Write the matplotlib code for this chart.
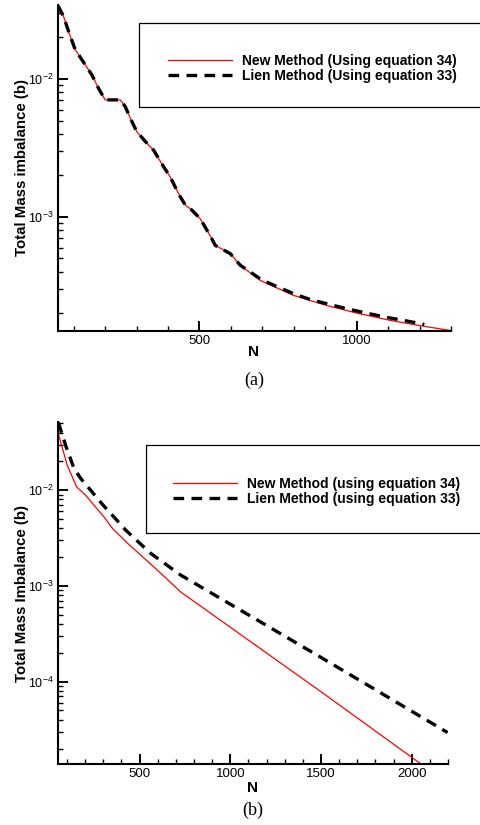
import matplotlib
matplotlib.use("Agg")
import matplotlib.pyplot as plt
from matplotlib.ticker import MultipleLocator, LogLocator, NullFormatter, FixedLocator
from matplotlib.patches import Rectangle

plt.rcParams['font.family'] = ['Liberation Sans', 'DejaVu Sans']
plt.rcParams['mathtext.fontset'] = 'custom'
plt.rcParams['mathtext.rm'] = 'Liberation Sans'
plt.rcParams['mathtext.default'] = 'regular'

# ---------------- data: panel (a) ----------------
N_a_new = [50, 68, 84, 105, 116, 137, 158, 179, 200, 248, 264, 280, 301, 338, 354,
           386, 407, 428, 439, 455, 476, 502, 524, 539, 550, 598, 630, 693, 799,
           905, 1000, 1106, 1201, 1300]
new_a = [0.0340, 0.0283, 0.0220, 0.01625, 0.01494, 0.01264, 0.01069, 0.00855, 0.00706,
         0.00706, 0.00630, 0.00519, 0.00414, 0.00332, 0.00305, 0.00231, 0.00195,
         0.00156, 0.00140, 0.00122, 0.00112, 0.000973, 0.000800, 0.000697, 0.000622,
         0.000542, 0.000446, 0.000347, 0.000270, 0.000228, 0.000201, 0.000178,
         0.000163, 0.000150]

N_a_lien = [50, 68, 84, 105, 116, 137, 158, 179, 200, 248, 264, 280, 301, 338, 354,
            386, 407, 428, 439, 455, 476, 502, 524, 539, 550, 598, 630, 698, 750,
            804, 857, 915, 968, 1027, 1085, 1148, 1207, 1215]
lien_a = [0.0340, 0.0283, 0.0220, 0.01625, 0.01494, 0.01264, 0.01069, 0.00855, 0.00706,
          0.00706, 0.00630, 0.00519, 0.00414, 0.00332, 0.00305, 0.00231, 0.00195,
          0.00156, 0.00140, 0.00122, 0.00112, 0.000973, 0.000800, 0.000697, 0.000622,
          0.000542, 0.000446, 0.000350, 0.000310, 0.000275, 0.000250, 0.000232,
          0.000216, 0.000202, 0.000189, 0.000178, 0.000168, 0.000166]

# ---------------- data: panel (b) ----------------
N_b_new = [50, 101, 153, 202, 248, 303, 349, 432, 600, 726, 1498, 2070]
new_b = [0.0400, 0.0182, 0.0108, 0.00887, 0.00698, 0.00527, 0.00402, 0.00281,
         0.00145, 0.000866, 7.9e-5, 1.30e-5]

N_b_lien = [52, 92, 138, 175, 230, 294, 349, 423, 494, 561, 726, 1498, 2198]
lien_b = [0.0510, 0.0294, 0.0169, 0.0133, 0.0100, 0.00715, 0.0055, 0.00383,
          0.00287, 0.00219, 0.00130, 0.000180, 2.94e-5]

labels_a = ["New Method (Using equation 34)", "Lien Method (Using equation 33)"]
labels_b = ["New Method (using equation 34)", "Lien Method (using equation 33)"]

W, H = 481, 825
fig = plt.figure(figsize=(W / 100, H / 100), dpi=100)


def px_rect(l, t, r, b):
    return [l / W, 1 - b / H, (r - l) / W, (b - t) / H]


def style_axes(ax, xlim, ylim, xmajor):
    ax.set_yscale('log')
    ax.set_xlim(*xlim)
    ax.set_ylim(*ylim)
    for s in ('top', 'right'):
        ax.spines[s].set_visible(False)
    for s in ('left', 'bottom'):
        ax.spines[s].set_linewidth(1.5)
    ax.xaxis.set_major_locator(FixedLocator(xmajor))
    ax.xaxis.set_minor_locator(MultipleLocator(100))
    ax.yaxis.set_major_locator(LogLocator(base=10, numticks=20))
    ax.yaxis.set_minor_locator(LogLocator(base=10, subs=range(2, 10), numticks=20))
    ax.yaxis.set_minor_formatter(NullFormatter())
    ax.tick_params(which='major', direction='in', length=7.2, width=1.4)
    ax.tick_params(which='minor', direction='in', length=3.8, width=1.0)
    ax.tick_params(axis='x', which='major', labelsize=9.5, pad=3)
    ax.tick_params(axis='y', which='major', labelsize=9, pad=3)
    for lab in ax.get_yticklabels():
        lab.set_verticalalignment('center_baseline')


# ---------------- panel (a) ----------------
axa = fig.add_axes(px_rect(58, 5, 451, 331))
axa.plot(N_a_new, new_a, color='red', lw=0.9, zorder=2)
axa.plot(N_a_lien, lien_a, color='black', lw=2.4, dashes=(3.2, 2.2), zorder=3)
style_axes(axa, (50, 1300), (1.49e-4, 0.0344), [500, 1000])

fig.add_artist(Rectangle((139 / W, 1 - 107 / H), 360 / W, 84 / H,
                         transform=fig.transFigure, fill=False, lw=0.9,
                         edgecolor='black', clip_on=False))
axa.legend(axa.get_lines(), labels_a, loc='center left',
           bbox_to_anchor=(168 / W, 1 - 68.5 / H), bbox_transform=fig.transFigure,
           frameon=False, borderpad=0, borderaxespad=0, handlelength=4.6,
           handletextpad=0.7, labelspacing=0.1,
           prop={'weight': 'bold', 'size': 10})

fig.text(22.5 / W, 1 - 167 / H, "Total Mass imbalance (b)", rotation=90,
         ha='center', va='center', fontsize=10.8, fontweight='bold')
fig.text(254 / W, 1 - 352.5 / H, "N", ha='center', va='center',
         fontsize=11, fontweight='bold')
fig.text(254 / W, 1 - 380 / H, "(a)", ha='center', va='center',
         fontsize=13, family=['Liberation Serif', 'DejaVu Serif'])

# ---------------- panel (b) ----------------
axb = fig.add_axes(px_rect(58, 422, 448, 764))
axb.plot(N_b_new, new_b, color='red', lw=0.9, zorder=2)
axb.plot(N_b_lien, lien_b, color='black', lw=2.4, dashes=(3.2, 2.2), zorder=3)
style_axes(axb, (50, 2200), (1.38e-5, 0.0516), [500, 1000, 1500, 2000])

fig.add_artist(Rectangle((146 / W, 1 - 533 / H), 360 / W, 88 / H,
                         transform=fig.transFigure, fill=False, lw=0.9,
                         edgecolor='black', clip_on=False))
axb.legend(axb.get_lines(), labels_b, loc='center left',
           bbox_to_anchor=(173 / W, 1 - 491.5 / H), bbox_transform=fig.transFigure,
           frameon=False, borderpad=0, borderaxespad=0, handlelength=4.6,
           handletextpad=0.7, labelspacing=0.1,
           prop={'weight': 'bold', 'size': 10})

fig.text(22.5 / W, 1 - 593 / H, "Total Mass Imbalance (b)", rotation=90,
         ha='center', va='center', fontsize=10.8, fontweight='bold')
fig.text(253 / W, 1 - 788 / H, "N", ha='center', va='center',
         fontsize=11, fontweight='bold')
fig.text(253 / W, 1 - 810 / H, "(b)", ha='center', va='center',
         fontsize=13, family=['Liberation Serif', 'DejaVu Serif'])

fig.savefig("out.png", dpi=100)
